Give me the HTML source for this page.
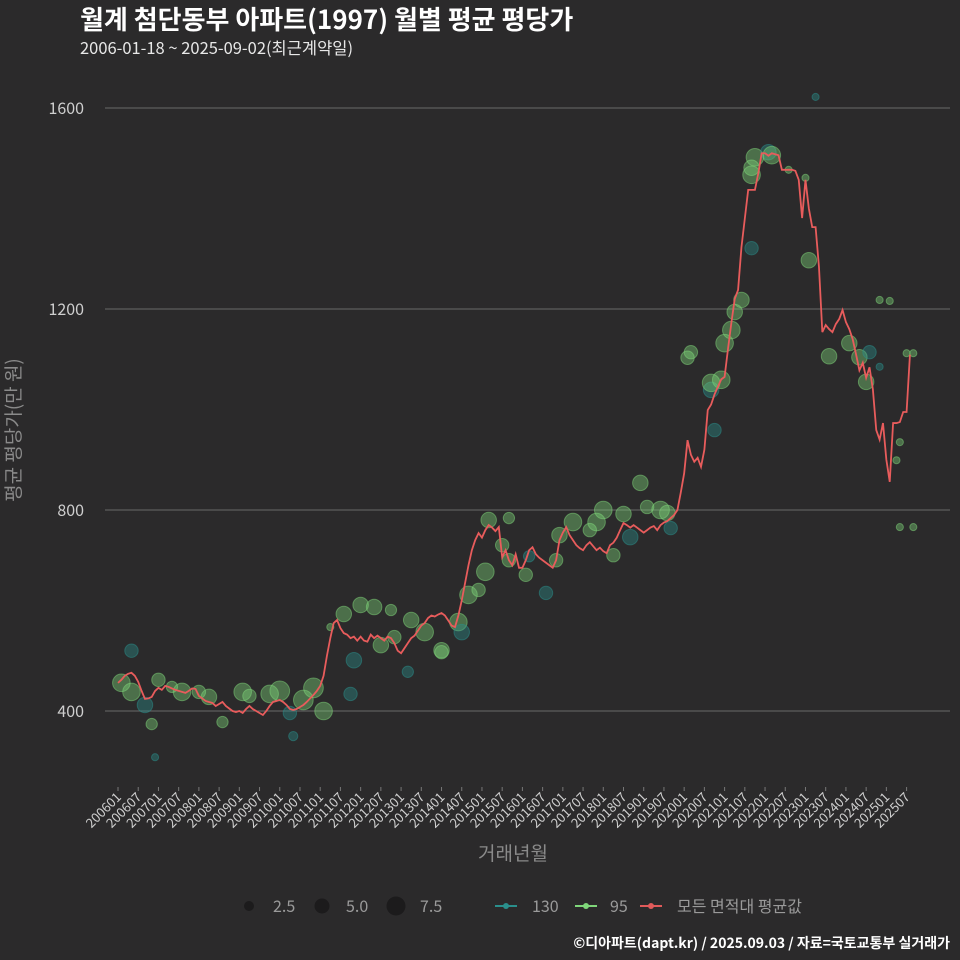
<!DOCTYPE html>
<html><head><meta charset="utf-8"><style>
body{margin:0;background:#2b2a2b;}
svg{display:block;font-family:"Noto Sans CJK KR","Liberation Sans",sans-serif;}
</style></head><body>
<svg id="c" width="960" height="960" viewBox="0 0 960 960">
<rect width="960" height="960" fill="#2b2a2b"/>
<text x="80" y="29" font-size="26" font-weight="bold" fill="#ffffff">월계 첨단동부 아파트(1997) 월별 평균 평당가</text>
<text x="80" y="54" font-size="16.5" fill="#e8e8e8">2006-01-18 ~ 2025-09-02(최근계약일)</text>
<g id="grid"></g>
<g id="pts"></g>
<g id="line"></g>
<g id="xt"></g>
<text transform="translate(20,430) rotate(-90)" text-anchor="middle" font-size="19" fill="#8a8a8a">평균 평당가(만 원)</text>
<text x="513" y="860" text-anchor="middle" font-size="19" fill="#8a8a8a">거래년월</text>
<g font-size="16" fill="#9a9a9a">
<circle cx="249" cy="906" r="5" fill="#1c1b1c"/>
<text x="273" y="912">2.5</text>
<circle cx="322" cy="906" r="7.5" fill="#1c1b1c"/>
<text x="346" y="912">5.0</text>
<circle cx="396" cy="906" r="9.5" fill="#1c1b1c"/>
<text x="420" y="912">7.5</text>
<line x1="495" y1="906" x2="517" y2="906" stroke="#2a8f8c" stroke-width="2"/>
<circle cx="506" cy="906" r="3" fill="#2a8f8c"/>
<text x="532" y="912">130</text>
<line x1="575" y1="906" x2="597" y2="906" stroke="#7fd67a" stroke-width="2"/>
<circle cx="586" cy="906" r="3" fill="#7fd67a"/>
<text x="610" y="912">95</text>
<line x1="640" y1="906" x2="662" y2="906" stroke="#e05a5a" stroke-width="2"/>
<circle cx="651" cy="906" r="3" fill="#e05a5a"/>
<text x="677" y="912">모든 면적대 평균값</text>
</g>
<text x="950" y="948" text-anchor="end" font-size="14" font-weight="bold" fill="#ffffff">©디아파트(dapt.kr) / 2025.09.03 / 자료=국토교통부 실거래가</text>
</svg>
<script>
const yTicks=[400,800,1200,1600];
const avgValues=[
456,462,470,474,476,470,458,440,424,425,428,440,
446,442,450,448,445,442,440,438,436,440,445,444,
430,425,420,418,416,410,414,418,410,405,400,398,
400,396,404,410,404,400,396,392,400,410,418,420,
422,418,412,404,402,404,408,412,418,425,432,440,
450,470,510,545,575,581,565,555,552,545,548,540,
548,540,538,552,545,550,545,540,548,545,535,520,
515,525,535,545,550,560,570,575,585,590,588,592,
595,590,580,570,567,590,620,655,690,720,740,754,
745,760,770,765,758,766,706,720,700,690,712,685,
685,700,720,726,712,705,700,695,690,685,700,740,
755,766,750,740,730,724,720,730,736,728,720,725,
718,714,730,735,745,760,774,770,765,770,765,760,
755,760,765,768,760,770,775,778,784,790,800,835,
873,939,910,896,904,886,920,999,1010,1030,1045,1060,
1065,1120,1172,1220,1238,1323,1380,1437,1437,1437,1470,1510,
1510,1505,1510,1508,1506,1477,1477,1477,1477,1475,1457,1381,
1457,1400,1363,1363,1284,1154,1168,1160,1154,1170,1180,1198,
1174,1160,1140,1110,1078,1093,1063,1084,1040,959,940,973,
900,856,973,973,975,995,995,1109];
const ptMonth=[1,4,8,4,10,11,12,16,19,24,27,31,37,39,45,48,51,52,55,58,61,63,67,72,70,69,76,81,78,82,86,87,91,96,101,104,107,102,96,109,110,114,116,116,121,122,127,130,131,135,140,142,144,147,150,152,155,157,161,163,164,169,170,176,177,176,179,180,182,183,185,188,188,188,189,193,194,199,204,205,211,217,220,222,223,226,229,232,236,234,207,226,231,236,232];
const ptValue=[456,520,412,438,374,308,462,448,438,438,428,378,438,430,434,440,396,350,422,446,400,567,593,611,501,434,607,601,531,547,478,581,557,521,577,631,641,557,517,677,780,730,700,784,671,708,635,700,750,776,760,776,800,710,792,746,854,806,800,794,764,1103,1114,1039,959,1053,1059,1132,1158,1194,1218,1321,1467,1481,1502,1512,1506,1477,1461,1297,1106,1132,1104,1055,1114,1085,1216,935,1112,1112,1622,1218,899,766,766];
const ptSize=[6,4,5,6,3,1,4,3,6,4,5,3,6,4,6,7,4,2,7,7,6,1,5,5,5,4,5,3,5,4,3,5,6,5,6,6,4,5,4,6,5,4,4,3,4,3,4,4,5,6,4,6,6,4,5,5,5,4,6,5,4,4,4,5,4,6,6,6,6,5,5,4,6,5,6,5,6,1,1,5,5,5,5,5,4,1,1,1,1,1,1,1,1,1,1];
const ptType=["95","130","130","95","95","130","95","95","95","95","95","95","95","95","95","95","130","130","95","95","95","95","95","95","130","130","95","95","95","95","130","95","95","95","95","95","95","130","95","95","95","95","95","95","95","130","130","95","95","95","95","95","95","95","95","130","95","95","95","95","130","95","95","130","130","95","95","95","95","95","95","130","95","95","95","130","95","95","95","95","95","95","95","95","130","130","95","95","95","95","130","95","95","95","95"];
const xLabels=[];for(let y=2006;y<=2025;y++){xLabels.push(y+"01");xLabels.push(y+"07");}
const NS="http://www.w3.org/2000/svg";
const xs=m=>118+m*3.37;
const ys=v=>711-(v-400)*0.5025;
const rs=s=>2.5+s*1.05;
const grid=document.getElementById('grid');
yTicks.forEach(t=>{
 const l=document.createElementNS(NS,'line');
 l.setAttribute('x1',105);l.setAttribute('x2',950);l.setAttribute('y1',ys(t));l.setAttribute('y2',ys(t));
 l.setAttribute('stroke','#6a6a6a');l.setAttribute('stroke-width','1');
 
 
 grid.appendChild(l);
 const tx=document.createElementNS(NS,'text');
 tx.setAttribute('x',84);tx.setAttribute('y',ys(t)+6);tx.setAttribute('text-anchor','end');
 tx.setAttribute('font-size','16');tx.setAttribute('fill','#cfcfcf');tx.textContent=t;
 
 
 grid.appendChild(tx);
});
const pts=document.getElementById('pts');
ptMonth.forEach((m,i)=>{
 const c=document.createElementNS(NS,'circle');
 c.setAttribute('cx',xs(m));c.setAttribute('cy',ys(ptValue[i]));c.setAttribute('r',rs(ptSize[i]));
 const col=ptType[i]==="130"?"#2a8f8c":"#7fd67a";
 c.setAttribute('fill',col);c.setAttribute('fill-opacity','0.4');
 c.setAttribute('stroke',col);c.setAttribute('stroke-opacity','0.5');
 
 
 pts.appendChild(c);
});
const line=document.getElementById('line');
const p=document.createElementNS(NS,'polyline');
p.setAttribute('points',avgValues.map((v,i)=>xs(i)+','+ys(v)).join(' '));
p.setAttribute('fill','none');p.setAttribute('stroke','#e85c5c');p.setAttribute('stroke-width','1.8');


line.appendChild(p);
const xt=document.getElementById('xt');
xLabels.forEach((lab,i)=>{
 const x=xs(i*6);
 const tk=document.createElementNS(NS,'line');
 tk.setAttribute('x1',x);tk.setAttribute('x2',x);tk.setAttribute('y1',787);tk.setAttribute('y2',791);
 tk.setAttribute('stroke','#777');
 
 
 xt.appendChild(tk);
 const tx=document.createElementNS(NS,'text');
 tx.setAttribute('transform','translate('+(x+4)+',798) rotate(-45)');
 tx.setAttribute('text-anchor','end');tx.setAttribute('font-size','13');tx.setAttribute('fill','#cfcfcf');
 tx.textContent=lab;
 
 
 xt.appendChild(tx);
});
</script>
</body></html>
